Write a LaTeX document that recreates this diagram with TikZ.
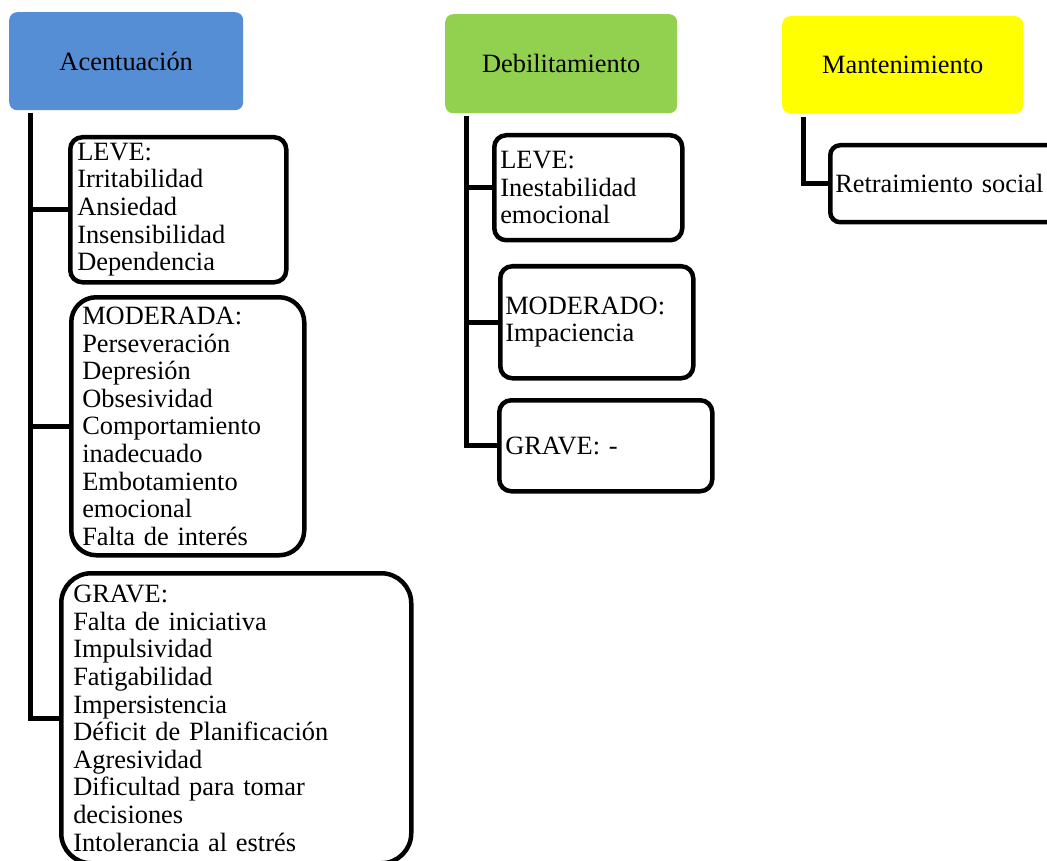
\documentclass[tikz,border=0pt]{standalone}
\usepackage{fontspec}
\setmainfont{Liberation Serif}
\definecolor{hblue}{RGB}{85,142,213}
\definecolor{hgreen}{RGB}{146,208,80}
\definecolor{hyellow}{RGB}{255,255,0}
\tikzset{
  txt/.style={font=\fontsize{26.4}{27.6}\selectfont},
  header/.style={txt, rectangle, rounded corners=8pt, anchor=north west, inner sep=0pt, align=center},
  itembox/.style={txt, rectangle, draw=black, line width=4.5pt, anchor=north west, inner ysep=0pt, align=left},
  conn/.style={draw=black, line width=5pt}
}
\begin{document}
\begin{tikzpicture}[x=1pt,y=-1pt]
\useasboundingbox (0,0) rectangle (1047,861);
\clip (0,0) rectangle (1047,861);
% headers
\node[header, fill=hblue, minimum width=234pt, minimum height=98pt] (acc) at (9,12) {Acentuación};
\node[header, fill=hgreen, minimum width=232pt, minimum height=99pt] (deb) at (445,14) {Debilitamiento};
\node[header, fill=hyellow, minimum width=241pt, minimum height=97pt] (man) at (782,16) {Mantenimiento};
% Acentuacion items
\node[itembox, rounded corners=12pt, inner xsep=7pt, text width=202pt, minimum height=145pt] (al) at (68,135)
  {LEVE:\\Irritabilidad\\Ansiedad\\Insensibilidad\\Dependencia};
\node[itembox, rounded corners=25pt, inner xsep=11pt, text width=211pt, minimum height=258pt] (am) at (69,295)
  {MODERADA:\\Perseveración\\Depresión\\Obsesividad\\Comportamiento\\inadecuado\\Embotamiento\\emocional\\Falta de interés};
\node[itembox, rounded corners=30pt, inner xsep=12pt, text width=326pt, minimum height=290pt] (ag) at (59,571)
  {GRAVE:\\Falta de iniciativa\\Impulsividad\\Fatigabilidad\\Impersistencia\\Déficit de Planificación\\Agresividad\\Dificultad para tomar\\decisiones\\Intolerancia al estrés};
% Debilitamiento items
\node[itembox, rounded corners=12pt, inner xsep=6pt, text width=176pt, minimum height=105pt] (dl) at (492,133)
  {LEVE:\\Inestabilidad\\emocional};
\node[itembox, rounded corners=12pt, inner xsep=5pt, text width=183pt, minimum height=112pt] (dm) at (498,264)
  {MODERADO:\\Impaciencia};
\node[itembox, rounded corners=12pt, inner xsep=6pt, text width=201pt, minimum height=91pt] (dg) at (497,398)
  {GRAVE: -};
% Mantenimiento item
\node[itembox, rounded corners=10pt, inner xsep=5pt, text width=250pt, minimum height=77pt] (mr) at (828,143)
  {Retraimiento social};
% connectors
\coordinate (at) at ([shift={(21,3)}]acc.south west);
\coordinate (dt) at ([shift={(21,3)}]deb.south west);
\coordinate (mt) at ([shift={(21,4)}]man.south west);
\draw[conn] (at) |- (ag.west);
\draw[conn] (al.west) -- (al.west -| at);
\draw[conn] (am.west) -- (am.west -| at);
\draw[conn] (dt) |- (dg.west);
\draw[conn] (dl.west) -- (dl.west -| dt);
\draw[conn] (dm.west) -- (dm.west -| dt);
\draw[conn] (mt) |- (mr.west);
\end{tikzpicture}
\end{document}
